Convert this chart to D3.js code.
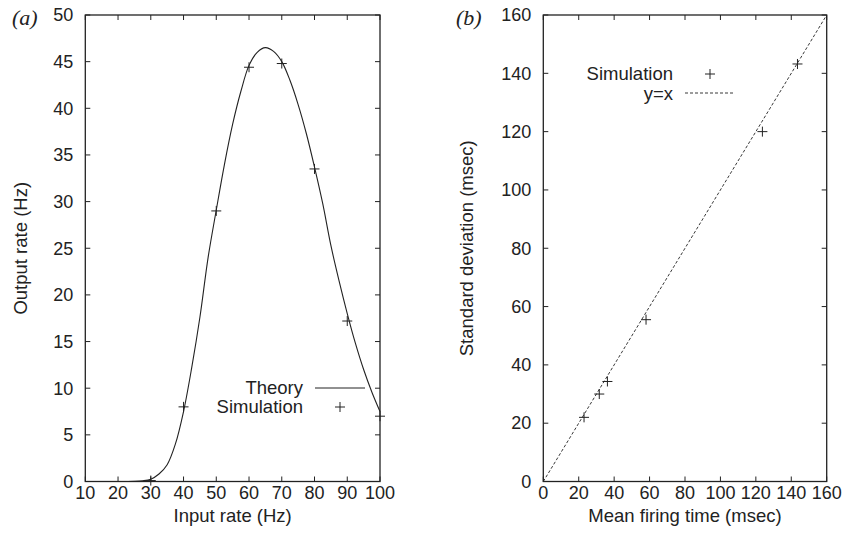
<!DOCTYPE html>
<html>
<head>
<meta charset="utf-8">
<script src="https://cdn.jsdelivr.net/npm/d3@7"></script>
<style>
  body { margin: 0; background: #fff; }
  text { font-family: "Liberation Sans", Arial, sans-serif; fill: #222; }
  .panel-label { font-family: "Liberation Serif", "Times New Roman", serif; font-style: italic; }
</style>
</head>
<body>
<div id="chart"></div>
<script>
// panel (a): theory curve
const theoryX = [20, 25, 27.5, 30, 32.5, 35, 37.5, 40, 42.5, 45, 47.5, 50, 52.5, 55, 57.5, 60, 62.5, 65,
                 67.5, 70, 72.5, 75, 77.5, 80, 82.5, 85, 87.5, 90, 92.5, 95, 97.5, 100];
const theoryY = [0, 0.02, 0.08, 0.25, 0.8, 1.8, 4.0, 7.5, 12.2, 17.6, 24.0, 29.1, 34.0, 38.3, 41.8, 44.6, 46.0, 46.5,
                 46.1, 45.0, 43.0, 40.4, 37.3, 33.7, 29.8, 25.3, 21.5, 18.0, 14.8, 12.0, 9.6, 7.5];
// panel (a): simulation
const simInputX = [30, 40, 50, 60, 70, 80, 90, 100];
const simOutputY = [0.1, 8.0, 29.0, 44.4, 44.8, 33.5, 17.2, 7.0];
const ticksA_x = [10, 20, 30, 40, 50, 60, 70, 80, 90, 100];
const ticksA_y = [0, 5, 10, 15, 20, 25, 30, 35, 40, 45, 50];

// panel (b): simulation
const simMeanX = [23, 31.6, 36.2, 58, 123.7, 143.5];
const simStdY = [22, 30, 34.3, 55.5, 120, 143.2];
const identityLine = [0, 160];
const ticksB = [0, 20, 40, 60, 80, 100, 120, 140, 160];

const W = 845, H = 533;
const ink = "#222";

const svg = d3.select("#chart")
  .append("svg")
  .attr("width", W)
  .attr("height", H);

// one framed panel with mirrored inward ticks
function drawPanel(opts) {
  const x = d3.scaleLinear().domain(opts.xDomain).range(opts.xRange);
  const y = d3.scaleLinear().domain(opts.yDomain).range(opts.yRange);
  const g = svg.append("g");
  const tk = 5;

  opts.xTicks.forEach(t => {
    g.append("line")
      .attr("x1", x(t)).attr("x2", x(t))
      .attr("y1", y.range()[0]).attr("y2", y.range()[0] - tk)
      .attr("stroke", ink);
    g.append("line")
      .attr("x1", x(t)).attr("x2", x(t))
      .attr("y1", y.range()[1]).attr("y2", y.range()[1] + tk)
      .attr("stroke", ink);
    g.append("text")
      .attr("x", x(t))
      .attr("y", y.range()[0] + 17.5)
      .attr("text-anchor", "middle")
      .style("font-size", "18px")
      .text(t);
  });

  opts.yTicks.forEach(t => {
    g.append("line")
      .attr("x1", x.range()[0]).attr("x2", x.range()[0] + tk)
      .attr("y1", y(t)).attr("y2", y(t))
      .attr("stroke", ink);
    g.append("line")
      .attr("x1", x.range()[1]).attr("x2", x.range()[1] - tk)
      .attr("y1", y(t)).attr("y2", y(t))
      .attr("stroke", ink);
    g.append("text")
      .attr("x", x.range()[0] - 12)
      .attr("y", y(t))
      .attr("dy", "0.35em")
      .attr("text-anchor", "end")
      .style("font-size", "18px")
      .text(t);
  });

  // frame
  g.append("rect")
    .attr("x", x.range()[0])
    .attr("y", y.range()[1])
    .attr("width", x.range()[1] - x.range()[0])
    .attr("height", y.range()[0] - y.range()[1])
    .attr("fill", "none")
    .attr("stroke", ink)
    .attr("stroke-width", 1.3);

  // axis titles
  g.append("text")
    .attr("x", (x.range()[0] + x.range()[1]) / 2)
    .attr("y", 522)
    .attr("text-anchor", "middle")
    .style("font-size", "18.5px")
    .text(opts.xTitle);

  g.append("text")
    .attr("transform", `translate(${opts.yTitleX},${(y.range()[0] + y.range()[1]) / 2}) rotate(-90)`)
    .attr("text-anchor", "middle")
    .style("font-size", "18.5px")
    .text(opts.yTitle);

  g.append("text")
    .attr("class", "panel-label")
    .attr("x", opts.labelX)
    .attr("y", 25)
    .style("font-size", "22px")
    .text(opts.label);

  return { x, y, g };
}

function plus(g, cx, cy) {
  g.append("path")
    .attr("d", `M${cx - 5},${cy}H${cx + 5}M${cx},${cy - 5}V${cy + 5}`)
    .attr("stroke", ink)
    .attr("stroke-width", 1)
    .attr("fill", "none");
}

// ---- panel (a)
const a = drawPanel({
  xDomain: [10, 100], xRange: [85.3, 380],
  yDomain: [0, 50], yRange: [481.5, 15],
  xTicks: ticksA_x, yTicks: ticksA_y,
  xTitle: "Input rate (Hz)", yTitle: "Output rate (Hz)",
  yTitleX: 27, label: "(a)", labelX: 12
});

const theoryLine = d3.line()
  .x(d => a.x(d[0]))
  .y(d => a.y(d[1]))
  .curve(d3.curveCatmullRom);

a.g.append("path")
  .datum(theoryX.map((v, i) => [v, theoryY[i]]))
  .attr("d", theoryLine)
  .attr("fill", "none")
  .attr("stroke", ink)
  .attr("stroke-width", 1.1);

simInputX.forEach((v, i) => plus(a.g, a.x(v), a.y(simOutputY[i])));

// legend (a)
a.g.append("text")
  .attr("x", 303).attr("y", 388).attr("dy", "0.35em")
  .attr("text-anchor", "end")
  .style("font-size", "18.5px")
  .text("Theory");
a.g.append("line")
  .attr("x1", 315).attr("x2", 365)
  .attr("y1", 388).attr("y2", 388)
  .attr("stroke", ink);
a.g.append("text")
  .attr("x", 303).attr("y", 407).attr("dy", "0.35em")
  .attr("text-anchor", "end")
  .style("font-size", "18.5px")
  .text("Simulation");
plus(a.g, 340, 407);

// ---- panel (b)
const b = drawPanel({
  xDomain: [0, 160], xRange: [543.3, 826.7],
  yDomain: [0, 160], yRange: [481.5, 15],
  xTicks: ticksB, yTicks: ticksB,
  xTitle: "Mean firing time (msec)", yTitle: "Standard deviation (msec)",
  yTitleX: 473, label: "(b)", labelX: 456
});

b.g.append("line")
  .attr("x1", b.x(identityLine[0])).attr("y1", b.y(identityLine[0]))
  .attr("x2", b.x(identityLine[1])).attr("y2", b.y(identityLine[1]))
  .attr("stroke", ink)
  .attr("stroke-width", 0.9)
  .attr("stroke-dasharray", "3,2");

simMeanX.forEach((v, i) => plus(b.g, b.x(v), b.y(simStdY[i])));

// legend (b)
b.g.append("text")
  .attr("x", 673).attr("y", 74).attr("dy", "0.35em")
  .attr("text-anchor", "end")
  .style("font-size", "18.5px")
  .text("Simulation");
plus(b.g, 710, 74);
b.g.append("text")
  .attr("x", 673).attr("y", 94).attr("dy", "0.35em")
  .attr("text-anchor", "end")
  .style("font-size", "18.5px")
  .text("y=x");
b.g.append("line")
  .attr("x1", 685).attr("x2", 735)
  .attr("y1", 93).attr("y2", 93)
  .attr("stroke", ink)
  .attr("stroke-width", 0.9)
  .attr("stroke-dasharray", "3,2");
</script>
</body>
</html>
